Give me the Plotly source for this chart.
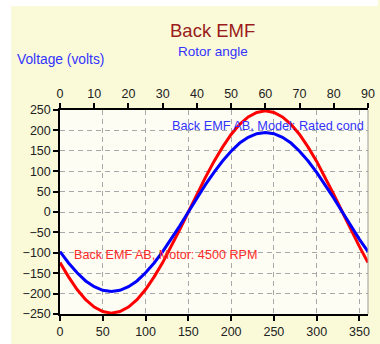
import plotly.graph_objects as go

# Data (rotor angle in electrical degrees, volts)
angle = [0, 10, 20, 30, 40, 50, 60, 70, 80, 90, 100, 110, 120, 130, 140, 150, 160, 170, 180,
         190, 200, 210, 220, 230, 240, 250, 260, 270, 280, 290, 300, 310, 320, 330, 340, 350, 360]
motor_4500rpm = [-124, -159, -190, -215, -233, -244, -248, -244, -233, -215, -190, -159, -124, -85, -43, 0,
                 43, 85, 124, 159, 190, 215, 233, 244, 248, 244, 233, 215, 190, 159, 124, 85, 43, 0,
                 -43, -85, -124]
model_rated = [-97, -125, -149, -169, -183, -192, -195, -192, -183, -169, -149, -125, -97, -67, -34, 0,
               34, 67, 97, 125, 149, 169, 183, 192, 195, 192, 183, 169, 149, 125, 97, 67, 34, 0,
               -34, -67, -97]
bottom_ticks = [0, 50, 100, 150, 200, 250, 300, 350]
top_ticks = [0, 10, 20, 30, 40, 50, 60, 70, 80, 90]
y_ticks = [-250, -200, -150, -100, -50, 0, 50, 100, 150, 200, 250]

W, H = 380, 344
L, R, T, B = 60, 5, 110, 26
pw, ph = W - L - R, H - T - B

def px(xp):
    return (xp - L) / pw

def py(yp):
    return (H - B - yp) / ph

font = "Liberation Sans, Arial, sans-serif"
fig = go.Figure()
fig.add_trace(go.Scatter(x=angle, y=motor_4500rpm, mode="lines",
                         line=dict(color="#ff0000", width=3), showlegend=False))
fig.add_trace(go.Scatter(x=angle, y=model_rated, mode="lines",
                         line=dict(color="#0000ff", width=3), showlegend=False))
fig.add_trace(go.Scatter(x=[0, 90], y=[0, 0], xaxis="x2", mode="lines",
                         line=dict(width=0), opacity=0, showlegend=False, hoverinfo="skip"))

axis_common = dict(zeroline=False, showline=True, linecolor="black", linewidth=1.5,
                   ticks="outside", ticklen=5, tickcolor="black", tickwidth=1.5,
                   tickfont=dict(size=12.5, color="#222222"))

fig.update_layout(
    width=W, height=H,
    margin=dict(l=L, r=R, t=T, b=B),
    paper_bgcolor="#fafad8",
    plot_bgcolor="#fdfdf3",
    font=dict(family=font, size=12, color="#222222"),
    xaxis=dict(range=[0, 360], tickvals=bottom_ticks, showgrid=True, gridcolor="#a8a8a8",
               griddash="5px,4px", gridwidth=1, **axis_common),
    xaxis2=dict(range=[0, 90], tickvals=top_ticks, overlaying="x", side="top", showgrid=False,
                **axis_common),
    yaxis=dict(range=[-250, 250], tickvals=y_ticks, showgrid=True, gridcolor="#a8a8a8",
               griddash="5px,4px", gridwidth=1, **axis_common),
    shapes=[
        dict(type="rect", xref="paper", yref="paper", x0=px(-5), x1=px(10), y0=py(H + 5), y1=py(-5),
             fillcolor="white", line=dict(width=0), layer="above"),
        dict(type="rect", xref="paper", yref="paper", x0=px(-5), x1=px(W + 5), y0=py(4), y1=py(-5),
             fillcolor="white", line=dict(width=0), layer="above"),
        dict(type="line", xref="paper", yref="paper", x0=1, x1=1, y0=0, y1=1,
             line=dict(color="#9a9a9a", width=1)),
    ],
    annotations=[
        dict(text="Back EMF", xref="paper", yref="paper", x=px(216), y=py(29), showarrow=False,
             xanchor="center", yanchor="middle", font=dict(size=18.5, color="#9b1c1c", family=font)),
        dict(text="Rotor angle", xref="paper", yref="paper", x=px(216), y=py(50), showarrow=False,
             xanchor="center", yanchor="middle", font=dict(size=13.5, color="#3333ff", family=font)),
        dict(text="Voltage (volts)", xref="paper", yref="paper", x=px(14), y=py(58), showarrow=False,
             xanchor="left", yanchor="middle", font=dict(size=13.8, color="#3333ff", family=font)),
        dict(text="Back EMF AB, Model: Rated cond", xref="paper", yref="paper", x=px(172), y=py(126),
             showarrow=False, xanchor="left", yanchor="middle",
             font=dict(size=12.7, color="#3333ff", family=font)),
        dict(text="Back EMF AB, Motor: 4500 RPM", xref="paper", yref="paper", x=px(72), y=py(258),
             showarrow=False, xanchor="left", yanchor="middle",
             font=dict(size=12.6, color="#ff2a2a", family=font)),
    ],
)

fig.write_html("out.html")
